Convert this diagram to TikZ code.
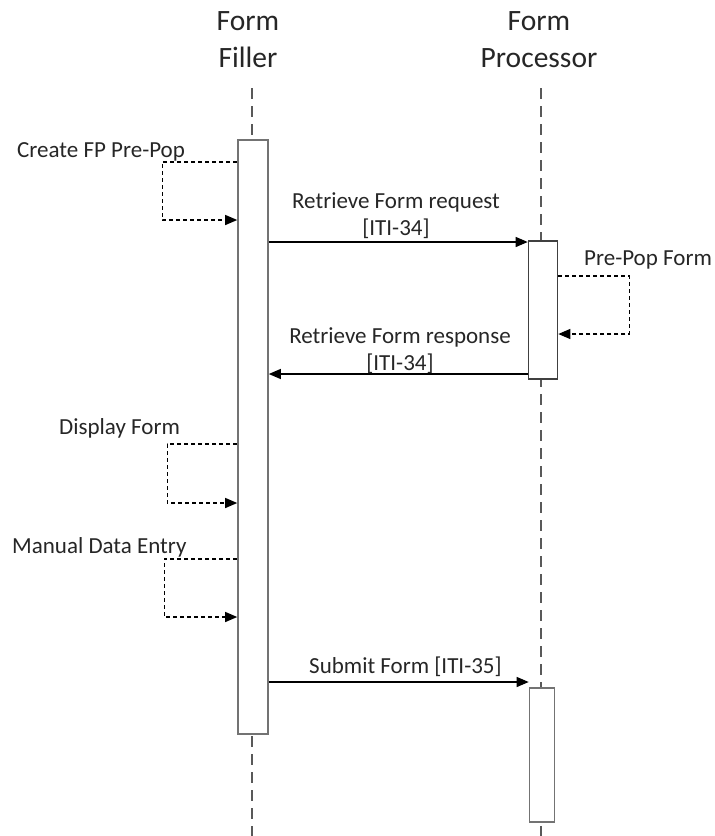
\documentclass[tikz,border=0pt]{standalone}
\usepackage{fontspec}
\setmainfont{Carlito}
\usetikzlibrary{arrows.meta}

\begin{document}
\begin{tikzpicture}[x=1pt,y=-1pt,
  lbl/.style={text=black!85,font=\fontsize{23}{27}\selectfont,inner sep=0pt},
  head/.style={text=black!85,font=\fontsize{29.5}{37}\selectfont,align=center,inner sep=0pt},
  lifeline/.style={draw=black!65,line width=1.3pt,dash pattern=on 11pt off 7pt},
  actbox/.style={draw=black!55,line width=1.6pt,fill=white,inner sep=0pt,anchor=north},
  msg/.style={draw=black,line width=1.2pt,-{Triangle[length=12pt,width=10pt]}},
  selfmsg/.style={draw=black,line width=1.2pt,dash pattern=on 4pt off 3pt,-{Triangle[length=12pt,width=10pt]}}]

\useasboundingbox (0,0) rectangle (715,836);

% headers (base = last line)
\node[head,anchor=base] (ffhead) at (248,67) {Form\\Filler};
\node[head,anchor=base] (fphead) at (539,67) {Form\\Processor};

% lifelines
\coordinate (fftop) at (252,88);
\coordinate (ffend) at (252,836);
\coordinate (fptop) at (541,88);
\coordinate (fpend) at (541,836);
\draw[lifeline] (fftop) -- (ffend);
\draw[lifeline] (fptop) -- (fpend);

% activation boxes
\node[actbox,minimum width=30pt,minimum height=594pt] (ffbox) at (253,139) {};
\node[actbox,draw=black!75,minimum width=29pt,minimum height=138pt] (fpboxA) at (543,240) {};
\node[actbox,minimum width=25pt,minimum height=134pt] (fpboxB) at (542,687) {};

% message heights
\coordinate (cfA) at (0,162);
\coordinate (cfB) at (0,220);
\coordinate (reqY) at (0,242);
\coordinate (ppA) at (0,276);
\coordinate (ppB) at (0,334);
\coordinate (resY) at (0,374);
\coordinate (dfA) at (0,444);
\coordinate (dfB) at (0,503);
\coordinate (mdA) at (0,559);
\coordinate (mdB) at (0,617);
\coordinate (subY) at (0,682);

% self calls
\draw[selfmsg] (ffbox.west |- cfA) -- ++(-75,0) |- (ffbox.west |- cfB);
\draw[selfmsg] (fpboxA.east |- ppA) -- ++(71,0) |- (fpboxA.east |- ppB);
\draw[selfmsg] (ffbox.west |- dfA) -- ++(-70,0) |- (ffbox.west |- dfB);
\draw[selfmsg] (ffbox.west |- mdA) -- ++(-73,0) |- (ffbox.west |- mdB);

% messages
\draw[msg] (ffbox.east |- reqY) -- (fpboxA.west |- reqY);
\draw[msg] (fpboxA.west |- resY) -- (ffbox.east |- resY);
\draw[msg] (ffbox.east |- subY) -- (fpboxB.west |- subY);

% labels
\node[lbl,anchor=base west] (cflbl) at (17,157) {Create FP Pre-Pop};
\node[lbl,align=center,anchor=base] (reqlbl) at (396,235) {Retrieve Form request\\{[ITI-34]}};
\node[lbl,anchor=base west] (pplbl) at (584,265) {Pre-Pop Form};
\node[lbl,align=center,anchor=base] (reslbl) at (400,370) {Retrieve Form response\\{[ITI-34]}};
\node[lbl,anchor=base west] (dflbl) at (59,434) {Display Form};
\node[lbl,anchor=base west] (mdlbl) at (12,553) {Manual Data Entry};
\node[lbl,anchor=base west] (sublbl) at (309,673) {Submit Form [ITI-35]};

\end{tikzpicture}
\end{document}
